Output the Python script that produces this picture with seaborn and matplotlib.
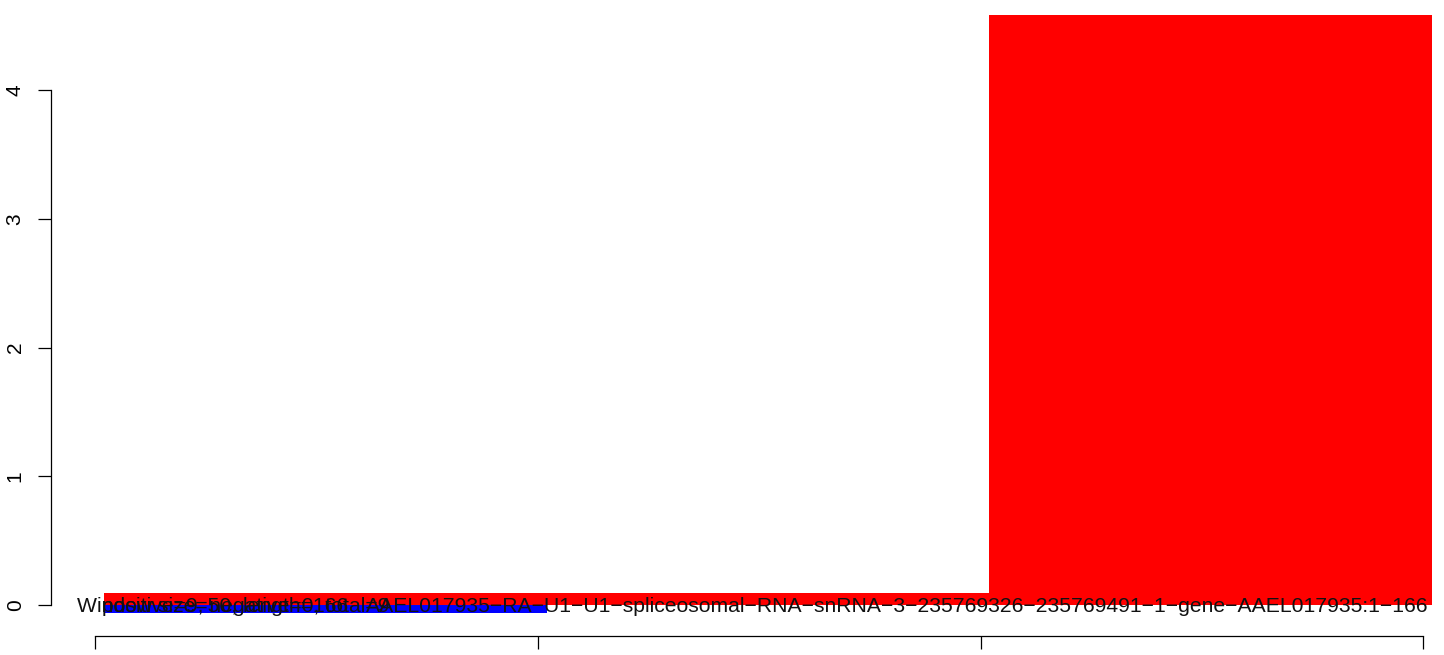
import numpy as np
import pandas as pd
import matplotlib
matplotlib.use("Agg")
import matplotlib.pyplot as plt
import matplotlib.transforms as mtransforms
import seaborn as sns

# windows along the transcript (length 166, window size 50)
win_start = [1, 51, 101]
win_end = [51, 101, 151]
pos_vals = [0.093, 0.093, 4.58]
neg_vals = [-0.06, 0.0, 0.0]
x_ticks = [0, 50, 100, 150]
y_ticks = [0, 1, 2, 3, 4]

label_window = "Window size=50, length=166"
label_counts = "positive=9, negative=0, total=9"
label_gene = ("AAEL017935−RA−U1−U1−spliceosomal−RNA−snRNA−3−235769326−"
              "235769491−1−gene−AAEL017935:1−166")

df = pd.DataFrame({"start": win_start, "end": win_end,
                   "pos": pos_vals, "neg": neg_vals})
df["mid"] = (df["start"] + df["end"]) / 2

sns.set_style("white")
plt.rcParams["font.family"] = ["Liberation Sans", "DejaVu Sans"]

fig = plt.figure(figsize=(14.44, 6.55), dpi=100)
ax = fig.add_axes([0, 0, 1, 1])

# positive (red) and negative (blue) bars, one per window
sns.barplot(data=df, x="mid", y="pos", native_scale=True, orient="x", width=1,
            color="#ff0000", saturation=1, linewidth=0, errorbar=None, ax=ax)
sns.barplot(data=df, x="mid", y="neg", native_scale=True, orient="x", width=1,
            color="#0000ff", saturation=1, linewidth=0, errorbar=None, ax=ax)

ax.set_xlim(-10.79, 152.37)
ax.set_ylim(-0.3883, 4.699)
ax.set_xlabel("")
ax.set_ylabel("")

# R-style detached axes
for s in ["top", "right"]:
    ax.spines[s].set_visible(False)
ax.spines["left"].set_position(("data", -5.03))
ax.spines["left"].set_bounds(0, 4)
ax.spines["bottom"].set_position(("data", -0.2408))
ax.spines["bottom"].set_bounds(0, 150)
for s in ["left", "bottom"]:
    ax.spines[s].set_linewidth(0.9)
    ax.spines[s].set_color("black")

ax.set_xticks(x_ticks)
ax.set_xticklabels([])
ax.set_yticks(y_ticks)
ax.tick_params(bottom=True, left=True, direction="out", length=9.4,
               width=0.9, color="black")
ax.tick_params(axis="y", labelrotation=90, labelsize=15, pad=9.5,
               labelcolor="black")
for lbl in ax.get_yticklabels():
    lbl.set_va("center")

# overlapping annotation texts at the zero line
off = mtransforms.offset_copy(ax.transData, fig=fig, x=0, y=-7, units="dots")
ax.text(-2.1, 0, label_window, ha="left", va="baseline", fontsize=15.25,
        color="#111111", transform=off, zorder=5)
ax.text(0.7, 0, label_counts, ha="left", va="baseline", fontsize=15.25,
        color="#111111", transform=off, zorder=5)
ax.text(150.6, 0, label_gene, ha="right", va="baseline", fontsize=15.25,
        color="#111111", transform=off, zorder=5)

fig.savefig("out.png", dpi=100)
